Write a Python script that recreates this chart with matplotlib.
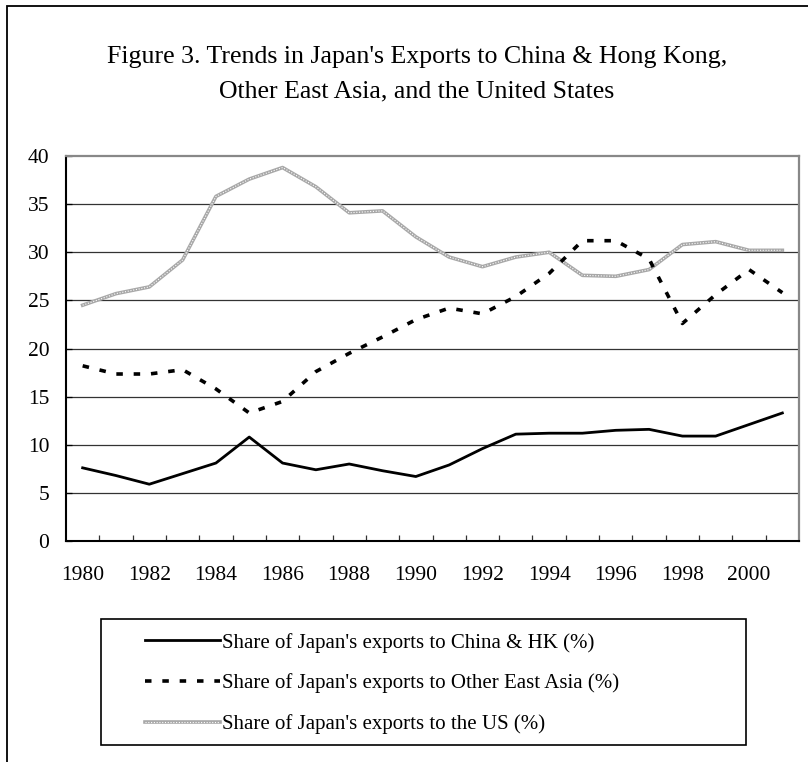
import matplotlib
matplotlib.use("Agg")
import matplotlib.pyplot as plt
from matplotlib.patches import Rectangle
from matplotlib.legend_handler import HandlerTuple

years = list(range(1980, 2002))
china_hk = [7.6, 6.8, 5.9, 7.0, 8.1, 10.8, 8.1, 7.4, 8.0, 7.3, 6.7, 7.9,
            9.6, 11.1, 11.2, 11.2, 11.5, 11.6, 10.9, 10.9, 12.1, 13.3]
other_ea = [18.2, 17.35, 17.35, 17.8, 15.8, 13.3, 14.5, 17.6, 19.5, 21.2, 23.0, 24.2,
            23.6, 25.4, 27.8, 31.2, 31.2, 29.3, 22.6, 25.6, 28.2, 25.8]
us = [24.5, 25.7, 26.4, 29.2, 35.8, 37.6, 38.8, 36.8, 34.1, 34.3, 31.6, 29.5,
      28.5, 29.5, 30.0, 27.6, 27.5, 28.2, 30.8, 31.1, 30.2, 30.2]
labels = ["Share of Japan's exports to China & HK (%)",
          "Share of Japan's exports to Other East Asia (%)",
          "Share of Japan's exports to the US (%)"]
title = "Figure 3. Trends in Japan's Exports to China & Hong Kong,\nOther East Asia, and the United States"
yticks = [0, 5, 10, 15, 20, 25, 30, 35, 40]

plt.rcParams['font.family'] = ['Liberation Serif', 'DejaVu Serif']

W, H = 808, 762
fig = plt.figure(figsize=(W / 100, H / 100), dpi=100)

def fx(px):
    return px / W

def fy(py):
    return 1 - py / H

ax = fig.add_axes([fx(66), fy(541), fx(799) - fx(66), fy(156) - fy(541)])
x = list(range(len(years)))

ax.set_xlim(-0.5, len(years) - 0.5)
ax.set_ylim(0, 40)
ax.set_yticks(yticks)
ax.set_yticklabels([str(v) for v in yticks], fontsize=15.5)
for v in yticks[1:-1]:
    ax.axhline(v, color='#333333', lw=0.9, zorder=1)

ax.set_xticks([i + 0.5 for i in range(len(years) - 1)])
ax.set_xticklabels([])
ax.set_xticks(x[::2], minor=True)
ax.set_xticklabels([str(y) for y in years[::2]], minor=True, fontsize=15.5)
ax.tick_params(axis='x', which='major', direction='in', length=4.5, width=0.9, color='#333333')
ax.tick_params(axis='x', which='minor', length=0, pad=18)
ax.tick_params(axis='y', direction='in', length=4.5, width=0.9, pad=12)

for s in ['left', 'bottom']:
    ax.spines[s].set_color('black')
    ax.spines[s].set_linewidth(1.5)
for s in ['top', 'right']:
    ax.spines[s].set_color('#888888')
    ax.spines[s].set_linewidth(1.6)

l1, = ax.plot(x, china_hk, color='black', lw=2.0, zorder=4)
l2, = ax.plot(x, other_ea, color='black', lw=2.6, linestyle=(0, (1.8, 3.0)), zorder=4)
l3a, = ax.plot(x, us, color='#a8a8a8', lw=2.6, zorder=3)
l3b, = ax.plot(x, us, color='white', lw=0.8, linestyle=(0, (1, 1.5)), zorder=3)

fig.text(fx(417), fy(74), title, ha='center', va='center', fontsize=18.6, linespacing=1.75)

# legend frame
fig.patches.append(Rectangle((fx(101), fy(745)), fx(746) - fx(101), fy(619) - fy(745),
                             transform=fig.transFigure, fill=False, edgecolor='black', lw=1.2))
# outer frame
fig.patches.append(Rectangle((fx(7), -0.1), 1.2, fy(6) + 0.1,
                             transform=fig.transFigure, fill=False, edgecolor='black', lw=1.3))

leg = fig.legend([l1, l2, (l3a, l3b)], labels, loc='upper left',
                 bbox_to_anchor=(fx(126), fy(614)), frameon=False, fontsize=15,
                 handlelength=3.6, handletextpad=0.1, labelspacing=1.0,
                 handler_map={tuple: HandlerTuple(ndivide=1, pad=0)})

fig.savefig('out.png', dpi=100)
